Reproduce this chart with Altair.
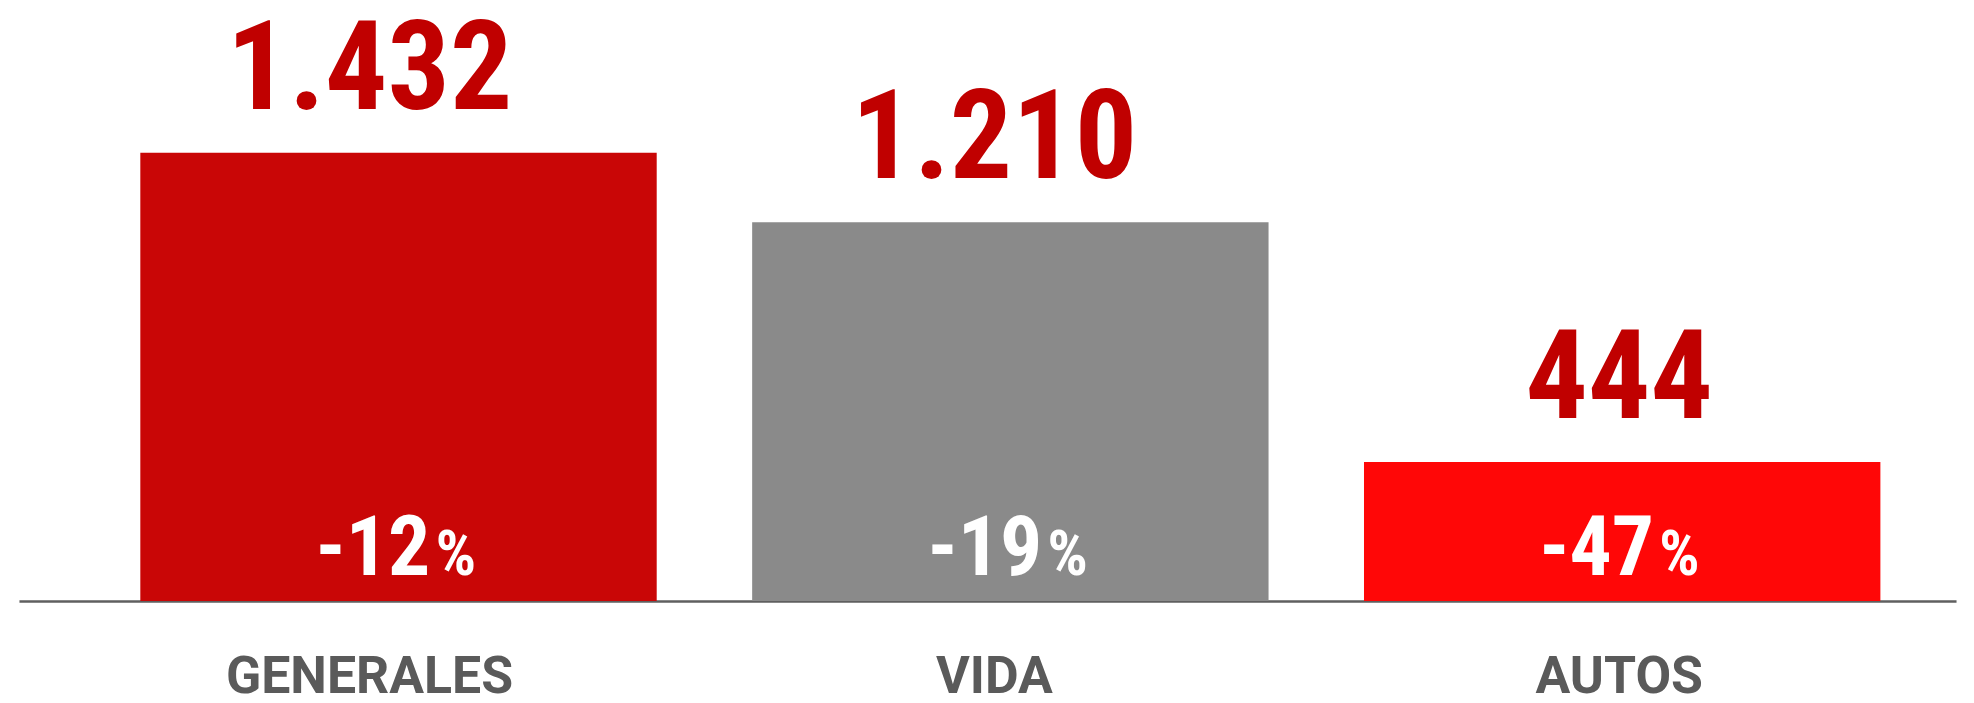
import altair as alt
import pandas as pd

categories = ["GENERALES", "VIDA", "AUTOS"]
values = [1432, 1210, 444]
value_labels = ["1.432", "1.210", "444"]
changes = ["-12", "-19", "-47"]
bar_colors = ["#C90606", "#8A8A8A", "#FF0707"]

df = pd.DataFrame({
    "cat": categories,
    "val": values,
    "label": value_labels,
    "chg": changes,
    "pct": ["%"] * len(categories),
    "zero": [0] * len(categories),
})

FONT = "Roboto Condensed, Roboto, sans-serif"
FONT_CAT = "Roboto, sans-serif"

yscale = alt.Scale(domain=[0, 1890])
band = alt.Scale(type="band", paddingInner=0.156, paddingOuter=0.161, align=0.616)

bar_x = alt.X("cat:N", sort=categories, scale=band,
              axis=alt.Axis(labels=False, ticks=False, title=None, domain=True,
                            domainColor="#5F5F5F", domainWidth=2.5))
bar_x_noaxis = alt.X("cat:N", sort=categories, scale=band, axis=None)
lab_x = alt.X("cat:N", sort=categories,
              scale=alt.Scale(type="point", padding=0.55, align=0.51),
              axis=None)
y_enc = alt.Y("val:Q", scale=yscale, axis=None)
y_zero = alt.Y("zero:Q", scale=yscale, axis=None)

base = alt.Chart(df)

bars = base.mark_bar().encode(
    x=bar_x,
    y=y_enc,
    color=alt.Color("cat:N", scale=alt.Scale(domain=categories, range=bar_colors), legend=None),
)

pct_num = base.mark_text(font=FONT, fontWeight="bold", fontSize=84, color="white",
                         align="right", baseline="alphabetic", dx=32, dy=-26).encode(
    x=bar_x_noaxis, y=y_zero, text="chg:N")

pct_sign = base.mark_text(font=FONT, fontWeight="bold", fontSize=64, color="white",
                          align="left", baseline="alphabetic", dx=37, dy=-26).encode(
    x=bar_x_noaxis, y=y_zero, text="pct:N")

top_labels = base.mark_text(font=FONT, fontWeight="bold", fontSize=124, color="#C00000",
                            align="center", baseline="alphabetic", dy=-44).encode(
    x=lab_x, y=y_enc, text="label:N")

cat_labels = base.mark_text(font=FONT_CAT, fontWeight="bold", fontSize=52, color="#5A5A5A",
                            align="center", baseline="alphabetic", dy=92).encode(
    x=lab_x, y=y_zero, text="cat:N")

chart = alt.layer(bars, pct_num, pct_sign, top_labels, cat_labels).resolve_scale(
    x="independent"
).properties(
    width=1944,
    height=594,
    background="white",
    autosize=alt.AutoSizeParams(type="none"),
    padding={"left": 11, "top": 0, "right": 10, "bottom": 101},
).configure_view(stroke="transparent", strokeWidth=0)

chart.save("out.html", embed_options={"renderer": "svg", "actions": False})
